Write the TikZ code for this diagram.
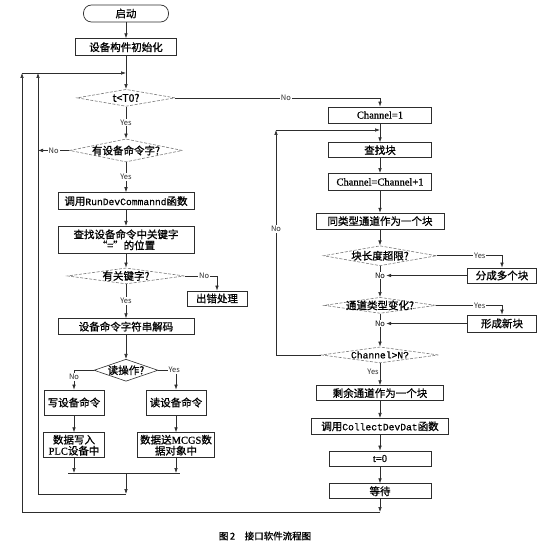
\documentclass[tikz,border=0pt]{standalone}
\usepackage{fontspec}
\usepackage{tikz}
\usetikzlibrary{shapes.geometric, arrows.meta, positioning, calc}
\newfontfamily\cjk{Noto Sans CJK SC}
\newfontfamily\cjkb[FakeBold=1]{Noto Sans CJK SC}
\newfontfamily\latn[FakeBold=0.6]{Liberation Serif}
\newfontfamily\mono[FakeBold=0.8, Scale=0.92]{Liberation Mono}
\definecolor{inkgray}{RGB}{45,45,45}
\definecolor{dashgray}{RGB}{120,120,120}

\begin{document}
\begin{tikzpicture}[
  x=1pt, y=-1pt,
  font=\cjkb\fontsize{10.5}{11}\selectfont,
  startbox/.style={rectangle, draw=inkgray, line width=0.7pt, rounded corners=8pt,
                   minimum width=85pt, minimum height=17pt, inner sep=1pt},
  procbox/.style={rectangle, draw=inkgray, line width=0.7pt,
                  minimum height=16pt, inner sep=1pt, align=center},
  decision/.style={diamond, draw=dashgray, line width=0.6pt,
                   dash pattern=on 3pt off 1.5pt, inner sep=0pt, label={center:#1}},
  choice/.style={diamond, draw=inkgray, line width=0.6pt, inner sep=0pt, label={center:#1}},
  arr/.style={-{Latex[length=5pt,width=3.6pt]}, inkgray, line width=0.65pt},
  line/.style={inkgray, line width=0.65pt},
  lab/.style={fill=white, inner sep=1pt, font=\cjk\fontsize{7.5}{8}\selectfont},
]
\useasboundingbox (0,0) rectangle (545,553);

% left column
\node[startbox] (start) at (126,13.5) {启动};
\node[procbox, minimum width=101pt, minimum height=17pt, below=16pt of start] (init) {设备构件初始化};
\node[decision={t<T0?}, minimum width=98pt, minimum height=17pt, below=33pt of init] (tq) {};
\node[decision={有设备命令字?}, minimum width=113pt, minimum height=23pt, below=32pt of tq] (cmdq) {};
\node[procbox, minimum width=136pt, minimum height=17pt, below=30pt of cmdq] (rundev) {调用{\mono RunDevCommannd}函数};
\node[procbox, minimum width=136pt, minimum height=27pt, below=16pt of rundev] (seek) {查找设备命令中关键字\\“=”的位置};
\node[decision={有关键字?}, minimum width=117pt, minimum height=16pt, below=14pt of seek] (keyq) {};
\node[procbox, minimum width=136pt, below=34pt of keyq] (decode) {设备命令字符串解码};
\node[procbox, minimum width=60pt, minimum height=15pt] (err) at (217,298.5) {出错处理};
\node[choice={读操作?}, minimum width=64pt, minimum height=22pt, below=24pt of decode] (rwq) {};
\node[procbox, minimum width=60pt, minimum height=25pt] (wcmd) at (74,402.5) {写设备命令};
\node[procbox, minimum width=61pt, minimum height=25pt, below=17pt of wcmd] (wplc) {数据写入\\{\latn PLC}设备中};
\node[procbox, minimum width=60pt, minimum height=25pt] (rcmd) at (176,402.5) {读设备命令};
\node[procbox, minimum width=77pt, minimum height=25pt, below=17pt of rcmd] (rmcgs) {数据送{\latn MCGS}数\\据对象中};

% right column
\node[procbox, minimum width=103pt] (ch1) at (380,115) {{\latn Channel=1}};
\node[procbox, minimum width=103pt, minimum height=15pt, below=19pt of ch1] (fblk) {查找块};
\node[procbox, minimum width=103pt, minimum height=17pt, below=15pt of fblk] (chinc) {{\latn Channel=Channel+1}};
\node[procbox, minimum width=128pt, below=22pt of chinc] (same) {同类型通道作为一个块};
\node[decision={块长度超限?}, minimum width=113pt, minimum height=20pt, below=16pt of same] (lenq) {};
\node[decision={通道类型变化?}, minimum width=112pt, minimum height=16pt, below=31pt of lenq] (typq) {};
\node[decision={\mono Channel>N?}, minimum width=117pt, minimum height=16pt, below=33pt of typq] (endq) {};
\node[procbox, minimum width=127pt, minimum height=15pt, below=22pt of endq] (rest) {剩余通道作为一个块};
\node[procbox, minimum width=137pt, below=17pt of rest] (collect) {调用{\mono CollectDevDat}函数};
\node[procbox, minimum width=102pt, minimum height=15pt, below=16pt of collect] (tzero) {{\latn t=0}};
\node[procbox, minimum width=102pt, minimum height=15pt, below=17pt of tzero] (wait) {等待};
\node[procbox, minimum width=69pt, minimum height=15pt] (split) at (502,275.5) {分成多个块};
\node[procbox, minimum width=69pt, minimum height=17pt] (newblk) at (502,323.5) {形成新块};

% loop corners
\coordinate (jt) at (126,73);
\coordinate (lt) at (22,73);
\coordinate (it) at (38,73);
\coordinate (mj) at (126,473);
\coordinate (ml) at (68,473);
\coordinate (mr) at (180,473);
\coordinate (mb) at (126,494);
\coordinate (jr) at (380,130);
\coordinate (rl) at (276,130);
\coordinate (wb) at (380,512);

\draw[arr] (start) -- (init);
\draw[arr] (init) -- (tq);
\draw[arr] (lt) -- (jt);
\draw[arr] (tq) -- node[lab]{Yes} (cmdq);
\draw[arr] (tq) -| node[lab, pos=0.27]{No} (ch1);
\draw[arr] (cmdq) -- node[lab]{No} (cmdq.west -| it);
\draw[arr] (cmdq) -- node[lab]{Yes} (rundev);
\draw[arr] (rundev) -- (seek);
\draw[arr] (seek) -- (keyq);
\draw[arr] (keyq) -- node[lab]{Yes} (decode);
\draw[arr] (keyq) -| node[lab, pos=0.3]{No} (err);
\draw[arr] (decode) -- (rwq);
\draw[arr] (rwq) -| node[lab, pos=0.68]{No} (wcmd);
\draw[arr] (rwq) -| node[lab, pos=0.45]{Yes} (rcmd);
\draw[arr] (wcmd) -- (wplc);
\draw[arr] (rcmd) -- (rmcgs);
\draw[arr] (wplc) -- (wplc |- mj);
\draw[arr] (rmcgs) -- (rmcgs |- mj);
\draw[line] (ml) -- (mr);
\draw[arr] (mj) -- (mb);
\draw[arr] (mb) -| (it);

\draw[arr] (ch1) -- (fblk);
\draw[arr] (rl) -- (jr);
\draw[arr] (fblk) -- (chinc);
\draw[arr] (chinc) -- (same);
\draw[arr] (same) -- (lenq);
\draw[arr] (lenq) -- (typq);
\draw[arr] (lenq) -| node[lab, pos=0.33]{Yes} (split);
\node[lab] (no1) at (lenq |- split) {No};
\draw[arr] (split) -- (no1);
\draw[arr] (typq) -- (endq);
\draw[arr] (typq) -| node[lab, pos=0.33]{Yes} (newblk);
\node[lab] (no2) at (typq |- newblk) {No};
\draw[arr] (newblk) -- (no2);
\draw[arr] (endq) -- node[lab, fill=none, left, pos=0.4]{Yes} (rest);
\draw[arr] (endq) -| node[lab, pos=0.78]{No} (rl);
\draw[arr] (rest) -- (collect);
\draw[arr] (collect) -- (tzero);
\draw[arr] (tzero) -- (wait);
\draw[arr] (wait) -- (wb);
\draw[arr] (wb) -| (lt);

\node[font=\cjkb\fontsize{9.5}{10}\selectfont] (cap) at (265,536) {图\,2\quad 接口软件流程图};
\end{tikzpicture}
\end{document}
